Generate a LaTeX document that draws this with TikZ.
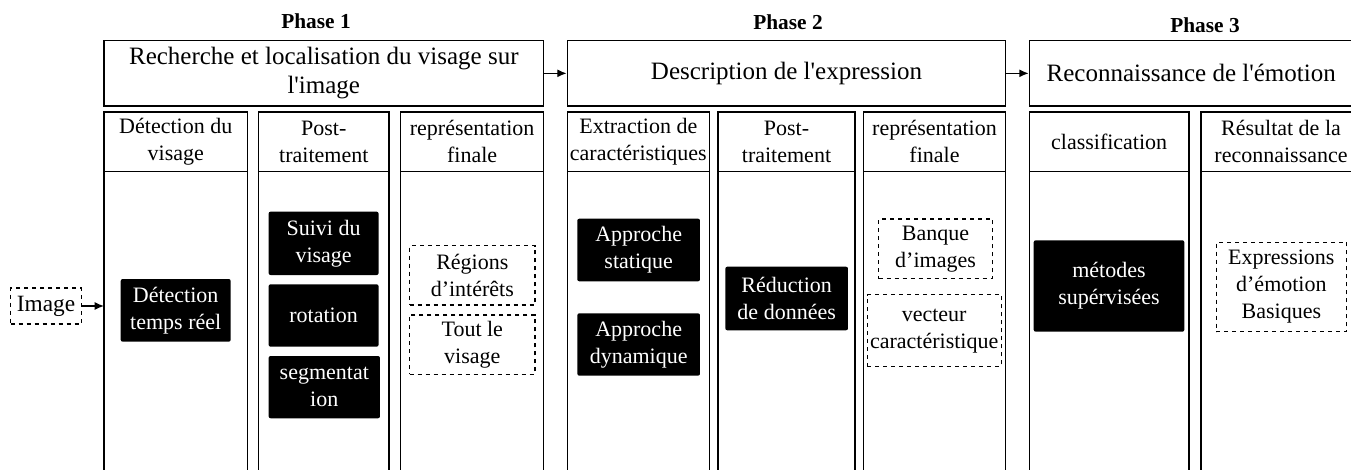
\documentclass[tikz,border=0pt]{standalone}
\usepackage{fontspec}
\setmainfont{Liberation Serif}
\usetikzlibrary{arrows.meta}

\begin{document}
\begin{tikzpicture}[x=0.75pt,y=-0.75pt,
    phase/.style={font=\fontsize{16}{19}\selectfont\bfseries},
    hdr/.style={draw, line width=1pt, minimum height=49pt, align=center, inner sep=1pt, font=\fontsize{18.75}{21.75}\selectfont},
    colhead/.style={draw, line width=1pt, minimum height=44.8pt, align=center, inner sep=1pt, outer sep=0pt, font=\fontsize{16.5}{20.25}\selectfont},
    colbody/.style={draw, line width=1pt, minimum height=231.2pt, anchor=north, outer sep=0pt},
    blk/.style={fill=black, text=white, rounded corners=1.5pt, align=center, inner sep=1pt, font=\fontsize{16.5}{20.25}\selectfont},
    dsh/.style={draw, dashed, line width=0.8pt, align=center, inner sep=1pt, font=\fontsize{16.5}{20.25}\selectfont},
    flow/.style={line width=1pt, -{Latex[length=7pt,width=6pt]}}]
  \useasboundingbox (0,0) rectangle (1351,470);

  \node[phase] (ph1) at (316,21) {Phase 1};
  \node[phase] (ph2) at (788,22) {Phase 2};
  \node[phase] (ph3) at (1205,25) {Phase 3};

  \node[hdr, minimum width=329.7pt] (h1) at (323.8,73.35) {Recherche et localisation du visage sur\\l\textquotesingle image};
  \node[hdr, minimum width=328.8pt] (h2) at (786.5,73.35) {Description de l\textquotesingle expression};
  \node[hdr, minimum width=242.8pt] (h3) at (1191.2,73.35) {Reconnaissance de l\textquotesingle émotion};

  \node[colhead, minimum width=107.6pt] (c1) at (175.75,141.85) {Détection du\\visage};
  \node[colhead, minimum width=97.8pt] (c2) at (323.8,141.85) {Post-\\traitement};
  \node[colhead, minimum width=107.2pt] (c3) at (472.15,141.85) {représentation\\finale};
  \node[colhead, minimum width=106.5pt] (c4) at (638.3,141.85) {Extraction de\\caractéristiques};
  \node[colhead, minimum width=102.75pt] (c5) at (786.5,141.85) {Post-\\traitement};
  \node[colhead, minimum width=106.8pt] (c6) at (934.5,141.85) {représentation\\finale};
  \node[colhead, minimum width=119.8pt] (c7) at (1109.15,141.85) {classification};
  \node[colhead, minimum width=120pt] (c8) at (1281,141.85) {Résultat de la\\reconnaissance};

  \node[colbody, minimum width=107.6pt] (b1) at (c1.south) {};
  \node[colbody, minimum width=97.8pt] (b2) at (c2.south) {};
  \node[colbody, minimum width=107.2pt] (b3) at (c3.south) {};
  \node[colbody, minimum width=106.5pt] (b4) at (c4.south) {};
  \node[colbody, minimum width=102.75pt] (b5) at (c5.south) {};
  \node[colbody, minimum width=106.8pt] (b6) at (c6.south) {};
  \node[colbody, minimum width=119.8pt] (b7) at (c7.south) {};
  \node[colbody, minimum width=120pt] (b8) at (c8.south) {};

  \node[dsh, minimum width=53pt, minimum height=27pt, font=\fontsize{17.5}{20}\selectfont] (img) at (46,306) {Image};
  \node[blk, minimum width=82.5pt, minimum height=47pt] (det) at (175.7,310.35) {Détection\\temps réel};
  \node[blk, minimum width=82.5pt, minimum height=47.5pt] (suivi) at (323.6,243.35) {Suivi du\\visage};
  \node[blk, minimum width=82.5pt, minimum height=46.8pt] (rot) at (323.6,315.5) {rotation};
  \node[blk, minimum width=83.5pt, minimum height=46.7pt] (seg) at (324.3,387.15) {segmentat\\ion};
  \node[dsh, minimum width=94pt, minimum height=44.5pt] (reg) at (472.3,275.35) {Régions\\d’intérêts};
  \node[dsh, minimum width=94pt, minimum height=44.3pt] (tout) at (472.3,344.5) {Tout le\\visage};
  \node[blk, minimum width=92pt, minimum height=47pt] (stat) at (638.65,250) {Approche\\statique};
  \node[blk, minimum width=92pt, minimum height=46.8pt] (dyn) at (638.65,344.5) {Approche\\dynamique};
  \node[blk, minimum width=92pt, minimum height=47.7pt] (red) at (786.65,298.5) {Réduction\\de données};
  \node[dsh, minimum width=85.2pt, minimum height=44.8pt] (banq) at (935.5,248.85) {Banque\\d’images};
  \node[dsh, minimum width=100.3pt, minimum height=54pt] (vect) at (934.15,330.7) {vecteur\\caractéristique};
  \node[blk, minimum width=113pt, minimum height=68.5pt] (meth) at (1109,286) {métodes\\supérvisées};
  \node[dsh, minimum width=98pt, minimum height=67pt] (expr) at (1281.35,287) {Expressions\\d’émotion\\Basiques};

  \draw[flow] (h1) -- (h2);
  \draw[flow] (h2) -- (h3);
  \draw[flow] (img) -- (img -| b1.west);
\end{tikzpicture}
\end{document}
